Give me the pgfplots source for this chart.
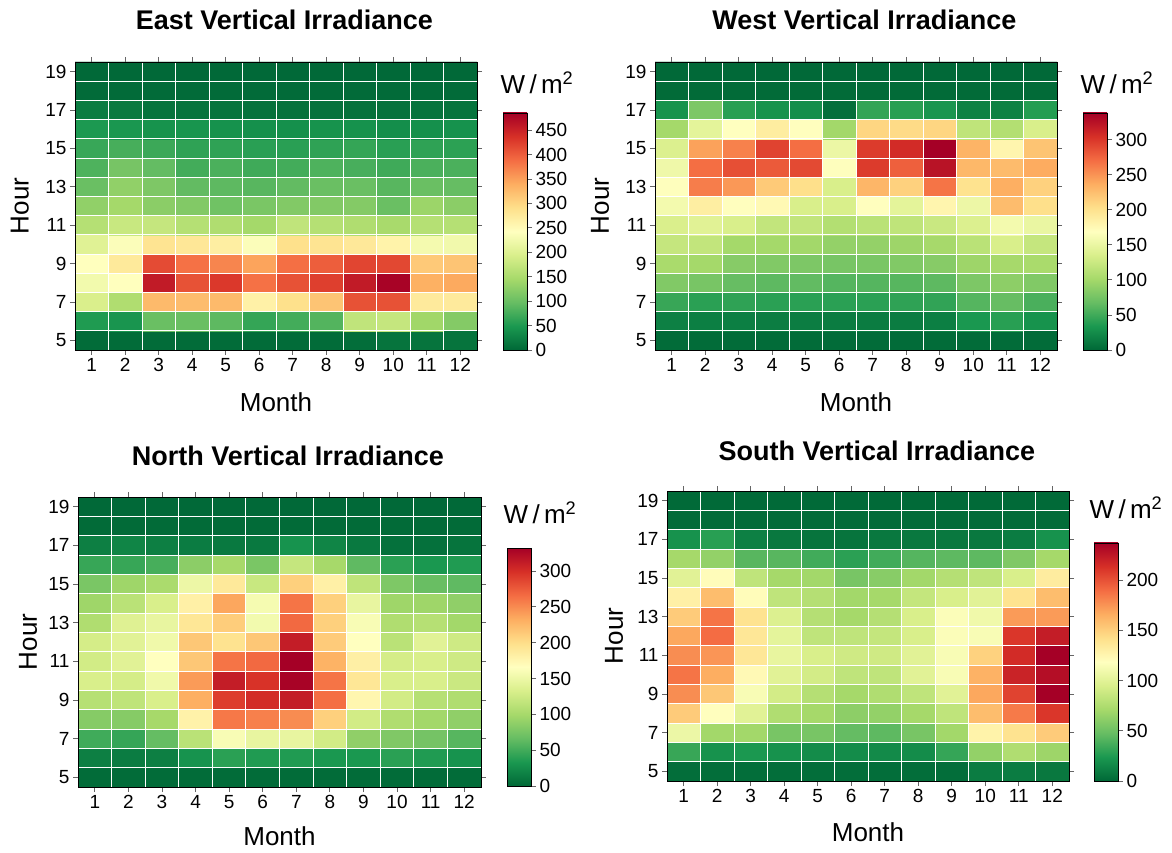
\documentclass[border=0pt]{standalone}
\usepackage{fontspec}
\setmainfont{Liberation Sans}
\usepackage{pgfplots}
\pgfplotsset{compat=1.18}

% Reversed RdYlGn scale, as a colormap for the cells and as a shading for the bars
% (a shaded path is mapped onto the 25bp--75bp band of the shading)
\pgfdeclareverticalshading{rdylgnv}{100bp}{%
  rgb(0bp)=(0,0.408,0.216); rgb(25bp)=(0,0.408,0.216); rgb(30bp)=(0.102,0.596,0.314);
  rgb(35bp)=(0.4,0.741,0.388); rgb(40bp)=(0.651,0.851,0.416); rgb(45bp)=(0.851,0.937,0.545);
  rgb(50bp)=(1,1,0.749); rgb(55bp)=(0.996,0.878,0.545); rgb(60bp)=(0.992,0.682,0.380);
  rgb(65bp)=(0.957,0.427,0.263); rgb(70bp)=(0.843,0.188,0.153); rgb(75bp)=(0.647,0,0.149);
  rgb(100bp)=(0.647,0,0.149)}

\pgfplotsset{
  colormap={rdylgnrev}{rgb255=(0,104,55) rgb255=(26,152,80) rgb255=(102,189,99)
    rgb255=(166,217,106) rgb255=(217,239,139) rgb255=(255,255,191) rgb255=(254,224,139)
    rgb255=(253,174,97) rgb255=(244,109,67) rgb255=(215,48,39) rgb255=(165,0,38)},
  heatpanel/.style={
    scale only axis, anchor=south west,
    xmin=0.5, xmax=12.5, ymin=4.5, ymax=19.5,
    xtick={1,...,12}, ytick={5,7,...,19},
    minor xtick={1.5,2.5,...,11.5}, minor ytick={5.5,6.5,...,18.5},
    minor tick length=0pt,
    grid=minor,
    minor grid style={white, line width=0.9pt},
    axis on top,
    tick align=outside,
    major tick length=5pt,
    major tick style={black!60, line width=0.8pt},
    axis line style={black, line width=0.8pt},
    ticklabel style={font=\fontsize{19}{22}\selectfont},
    /pgf/number format/assume math mode=true,
    xlabel={Month}, ylabel={Hour},
    label style={font=\fontsize{26}{30}\selectfont},
    title style={font=\bfseries\fontsize{27}{30}\selectfont, anchor=center},
    colormap name=rdylgnrev,
    point meta min=0,
  },
  cbar/.style={
    scale only axis, anchor=south west,
    width=24pt,
    xmin=0, xmax=1, ymin=0, xtick=\empty,
    axis on top,
    tick align=outside, ytick pos=right,
    major tick length=5pt,
    major tick style={black!60, line width=0.8pt},
    axis line style={black, line width=0.8pt},
    yticklabel style={font=\fontsize{19}{22}\selectfont},
    /pgf/number format/assume math mode=true,
  },
  cells/.style={matrix plot*, mesh/cols=12, point meta=explicit},
}

\begin{document}
\begin{tikzpicture}
\useasboundingbox (0,0) rectangle (1172pt,852pt);

% East facade
\begin{axis}[heatpanel, at={(75pt,502pt)},
  width=402pt, height=288pt,
  point meta max=485,
  title={East Vertical Irradiance},
  title style={at={(axis description cs:0.521,1.125)}},
  xlabel style={at={(axis description cs:0.5,-0.18)}, anchor=center},
  ylabel style={at={(axis description cs:-0.137,0.5)}, anchor=center}]
\addplot[cells] coordinates {
(1,5)[4] (2,5)[4] (3,5)[4] (4,5)[4] (5,5)[4] (6,5)[4] (7,5)[4] (8,5)[4] (9,5)[6] (10,5)[12] (11,5)[12] (12,5)[12]
(1,6)[52] (2,6)[46] (3,6)[100] (4,6)[100] (5,6)[92] (6,6)[65] (7,6)[75] (8,6)[85] (9,6)[170] (10,6)[175] (11,6)[142] (12,6)[120]
(1,7)[195] (2,7)[155] (3,7)[328] (4,7)[326] (5,7)[328] (6,7)[265] (7,7)[290] (8,7)[318] (9,7)[410] (10,7)[410] (11,7)[275] (12,7)[275]
(1,8)[226] (2,8)[242] (3,8)[458] (4,8)[410] (5,8)[430] (6,8)[385] (7,8)[410] (8,8)[425] (9,8)[458] (10,8)[482] (11,8)[337] (12,8)[343]
(1,9)[242] (2,9)[276] (3,9)[415] (4,9)[385] (5,9)[370] (6,9)[347] (7,9)[387] (8,9)[400] (9,9)[420] (10,9)[418] (11,9)[313] (12,9)[318]
(1,10)[203] (2,10)[238] (3,10)[285] (4,10)[280] (5,10)[270] (6,10)[238] (7,10)[290] (8,10)[285] (9,10)[278] (10,10)[262] (11,10)[228] (12,10)[225]
(1,11)[160] (2,11)[178] (3,11)[175] (4,11)[160] (5,11)[155] (6,11)[145] (7,11)[170] (8,11)[160] (9,11)[155] (10,11)[148] (11,11)[160] (12,11)[160]
(1,12)[130] (2,12)[145] (3,12)[125] (4,12)[118] (5,12)[105] (6,12)[112] (7,12)[118] (8,12)[118] (9,12)[120] (10,12)[100] (11,12)[138] (12,12)[125]
(1,13)[100] (2,13)[130] (3,13)[115] (4,13)[95] (5,13)[92] (6,13)[88] (7,13)[95] (8,13)[100] (9,13)[100] (10,13)[88] (11,13)[100] (12,13)[97]
(1,14)[82] (2,14)[110] (3,14)[96] (4,14)[75] (5,14)[80] (6,14)[72] (7,14)[75] (8,14)[82] (9,14)[78] (10,14)[72] (11,14)[80] (12,14)[80]
(1,15)[68] (2,15)[77] (3,15)[70] (4,15)[62] (5,15)[62] (6,15)[58] (7,15)[58] (8,15)[62] (9,15)[65] (10,15)[58] (11,15)[62] (12,15)[60]
(1,16)[50] (2,16)[48] (3,16)[43] (4,16)[45] (5,16)[42] (6,16)[40] (7,16)[40] (8,16)[43] (9,16)[42] (10,16)[38] (11,16)[40] (12,16)[42]
(1,17)[20] (2,17)[18] (3,17)[12] (4,17)[12] (5,17)[12] (6,17)[10] (7,17)[10] (8,17)[10] (9,17)[10] (10,17)[10] (11,17)[12] (12,17)[12]
(1,18)[3] (2,18)[3] (3,18)[3] (4,18)[3] (5,18)[3] (6,18)[3] (7,18)[3] (8,18)[3] (9,18)[3] (10,18)[3] (11,18)[3] (12,18)[3]
(1,19)[1] (2,19)[1] (3,19)[1] (4,19)[1] (5,19)[1] (6,19)[1] (7,19)[1] (8,19)[1] (9,19)[1] (10,19)[1] (11,19)[1] (12,19)[1]
};
\end{axis}
\begin{axis}[cbar, at={(503pt,502pt)}, height=237pt, ymax=485, ytick={0,50,...,450}]
\shade[shading=rdylgnv] (rel axis cs:0,0) rectangle (rel axis cs:1,1);
\end{axis}

% West facade
\begin{axis}[heatpanel, at={(655pt,502pt)},
  width=402pt, height=288pt,
  point meta max=338,
  title={West Vertical Irradiance},
  title style={at={(axis description cs:0.521,1.125)}},
  xlabel style={at={(axis description cs:0.5,-0.18)}, anchor=center},
  ylabel style={at={(axis description cs:-0.137,0.5)}, anchor=center}]
\addplot[cells] coordinates {
(1,5)[3] (2,5)[3] (3,5)[3] (4,5)[3] (5,5)[3] (6,5)[3] (7,5)[3] (8,5)[3] (9,5)[3] (10,5)[3] (11,5)[3] (12,5)[3]
(1,6)[17] (2,6)[16] (3,6)[16] (4,6)[15] (5,6)[15] (6,6)[14] (7,6)[14] (8,6)[14] (9,6)[16] (10,6)[34] (11,6)[40] (12,6)[30]
(1,7)[47] (2,7)[41] (3,7)[43] (4,7)[41] (5,7)[41] (6,7)[41] (7,7)[41] (8,7)[43] (9,7)[44] (10,7)[60] (11,7)[68] (12,7)[55]
(1,8)[82] (2,8)[77] (3,8)[68] (4,8)[64] (5,8)[66] (6,8)[60] (7,8)[60] (8,8)[61] (9,8)[64] (10,8)[80] (11,8)[88] (12,8)[82]
(1,9)[104] (2,9)[101] (3,9)[85] (4,9)[82] (5,9)[80] (6,9)[77] (7,9)[78] (8,9)[82] (9,9)[85] (10,9)[97] (11,9)[102] (12,9)[104]
(1,10)[122] (2,10)[120] (3,10)[101] (4,10)[101] (5,10)[100] (6,10)[92] (7,10)[92] (8,10)[97] (9,10)[102] (10,10)[115] (11,10)[135] (12,10)[122]
(1,11)[136] (2,11)[142] (3,11)[135] (4,11)[120] (5,11)[120] (6,11)[110] (7,11)[115] (8,11)[118] (9,11)[125] (10,11)[138] (11,11)[158] (12,11)[150]
(1,12)[158] (2,12)[188] (3,12)[170] (4,12)[176] (5,12)[135] (6,12)[135] (7,12)[170] (8,12)[145] (9,12)[180] (10,12)[153] (11,12)[227] (12,12)[203]
(1,13)[168] (2,13)[262] (3,13)[248] (4,13)[218] (5,13)[203] (6,13)[135] (7,13)[231] (8,13)[213] (9,13)[267] (10,13)[200] (11,13)[236] (12,13)[213]
(1,14)[155] (2,14)[270] (3,14)[287] (4,14)[281] (5,14)[290] (6,14)[168] (7,14)[298] (8,14)[278] (9,14)[325] (10,14)[230] (11,14)[228] (12,14)[238]
(1,15)[138] (2,15)[243] (3,15)[260] (4,15)[294] (5,15)[270] (6,15)[152] (7,15)[298] (8,15)[308] (9,15)[338] (10,15)[233] (11,15)[180] (12,15)[222]
(1,16)[101] (2,16)[145] (3,16)[169] (4,16)[189] (5,16)[170] (6,16)[100] (7,16)[210] (8,16)[206] (9,16)[210] (10,16)[118] (11,16)[110] (12,16)[135]
(1,17)[30] (2,17)[80] (3,17)[40] (4,17)[30] (5,17)[27] (6,17)[5] (7,17)[45] (8,17)[40] (9,17)[32] (10,17)[18] (11,17)[18] (12,17)[38]
(1,18)[2] (2,18)[2] (3,18)[2] (4,18)[2] (5,18)[2] (6,18)[2] (7,18)[2] (8,18)[2] (9,18)[2] (10,18)[2] (11,18)[2] (12,18)[2]
(1,19)[1] (2,19)[1] (3,19)[1] (4,19)[1] (5,19)[1] (6,19)[1] (7,19)[1] (8,19)[1] (9,19)[1] (10,19)[1] (11,19)[1] (12,19)[1]
};
\end{axis}
\begin{axis}[cbar, at={(1083pt,502pt)}, height=237pt, ymax=338, ytick={0,50,...,300}]
\shade[shading=rdylgnv] (rel axis cs:0,0) rectangle (rel axis cs:1,1);
\end{axis}

% North facade
\begin{axis}[heatpanel, at={(78pt,65pt)},
  width=403pt, height=290pt,
  point meta max=332,
  title={North Vertical Irradiance},
  title style={at={(axis description cs:0.521,1.120)}},
  xlabel style={at={(axis description cs:0.5,-0.169)}, anchor=center},
  ylabel style={at={(axis description cs:-0.124,0.5)}, anchor=center}]
\addplot[cells] coordinates {
(1,5)[3] (2,5)[3] (3,5)[3] (4,5)[3] (5,5)[3] (6,5)[3] (7,5)[3] (8,5)[3] (9,5)[3] (10,5)[3] (11,5)[3] (12,5)[3]
(1,6)[16] (2,6)[14] (3,6)[16] (4,6)[30] (5,6)[40] (6,6)[36] (7,6)[36] (8,6)[33] (9,6)[33] (10,6)[40] (11,6)[36] (12,6)[30]
(1,7)[50] (2,7)[45] (3,7)[66] (4,7)[113] (5,7)[160] (6,7)[146] (7,7)[146] (8,7)[128] (9,7)[88] (10,7)[80] (11,7)[74] (12,7)[60]
(1,8)[83] (2,8)[83] (3,8)[100] (4,8)[180] (5,8)[260] (6,8)[256] (7,8)[250] (8,8)[210] (9,8)[128] (10,8)[106] (11,8)[98] (12,8)[88]
(1,9)[110] (2,9)[116] (3,9)[133] (4,9)[232] (5,9)[292] (6,9)[302] (7,9)[312] (8,9)[265] (9,9)[176] (10,9)[128] (11,9)[110] (12,9)[106]
(1,10)[133] (2,10)[130] (3,10)[153] (4,10)[242] (5,10)[312] (6,10)[298] (7,10)[330] (8,10)[262] (9,10)[192] (10,10)[133] (11,10)[133] (12,10)[123]
(1,11)[128] (2,11)[140] (3,11)[166] (4,11)[216] (5,11)[262] (6,11)[268] (7,11)[332] (8,11)[229] (9,11)[183] (10,11)[130] (11,11)[133] (12,11)[126]
(1,12)[130] (2,12)[140] (3,12)[153] (4,12)[216] (5,12)[196] (6,12)[216] (7,12)[312] (8,12)[213] (9,12)[166] (10,12)[113] (11,12)[140] (12,12)[126]
(1,13)[106] (2,13)[138] (3,13)[146] (4,13)[192] (5,13)[212] (6,13)[155] (7,13)[268] (8,13)[210] (9,13)[160] (10,13)[106] (11,13)[110] (12,13)[98]
(1,14)[96] (2,14)[113] (3,14)[133] (4,14)[182] (5,14)[236] (6,14)[157] (7,14)[262] (8,14)[210] (9,14)[146] (10,14)[96] (11,14)[96] (12,14)[88]
(1,15)[77] (2,15)[96] (3,15)[103] (4,15)[150] (5,15)[190] (6,15)[122] (7,15)[210] (8,15)[182] (9,15)[116] (10,15)[79] (11,15)[68] (12,15)[64]
(1,16)[46] (2,16)[46] (3,16)[53] (4,16)[86] (5,16)[100] (6,16)[77] (7,16)[120] (8,16)[100] (9,16)[64] (10,16)[40] (11,16)[33] (12,16)[36]
(1,17)[16] (2,17)[20] (3,17)[16] (4,17)[14] (5,17)[12] (6,17)[12] (7,17)[30] (8,17)[20] (9,17)[12] (10,17)[6] (11,17)[6] (12,17)[8]
(1,18)[2] (2,18)[2] (3,18)[2] (4,18)[2] (5,18)[2] (6,18)[2] (7,18)[2] (8,18)[2] (9,18)[2] (10,18)[2] (11,18)[2] (12,18)[2]
(1,19)[1] (2,19)[1] (3,19)[1] (4,19)[1] (5,19)[1] (6,19)[1] (7,19)[1] (8,19)[1] (9,19)[1] (10,19)[1] (11,19)[1] (12,19)[1]
};
\end{axis}
\begin{axis}[cbar, at={(507pt,66pt)}, height=238pt, ymax=332, ytick={0,50,...,300}]
\shade[shading=rdylgnv] (rel axis cs:0,0) rectangle (rel axis cs:1,1);
\end{axis}

% South facade
\begin{axis}[heatpanel, at={(667pt,71pt)},
  width=402pt, height=290pt,
  point meta max=237,
  title={South Vertical Irradiance},
  title style={at={(axis description cs:0.522,1.117)}},
  xlabel style={at={(axis description cs:0.5,-0.176)}, anchor=center},
  ylabel style={at={(axis description cs:-0.132,0.5)}, anchor=center}]
\addplot[cells] coordinates {
(1,5)[3] (2,5)[3] (3,5)[3] (4,5)[3] (5,5)[3] (6,5)[3] (7,5)[3] (8,5)[3] (9,5)[3] (10,5)[10] (11,5)[10] (12,5)[8]
(1,6)[33] (2,6)[21] (3,6)[24] (4,6)[21] (5,6)[18] (6,6)[18] (7,6)[17] (8,6)[18] (9,6)[32] (10,6)[64] (11,6)[76] (12,6)[68]
(1,7)[107] (2,7)[70] (3,7)[70] (4,7)[54] (5,7)[54] (6,7)[47] (7,7)[45] (8,7)[54] (9,7)[70] (10,7)[128] (11,7)[140] (12,7)[152]
(1,8)[152] (2,8)[119] (3,8)[100] (4,8)[76] (5,8)[71] (6,8)[62] (7,8)[64] (8,8)[71] (9,8)[83] (10,8)[159] (11,8)[185] (12,8)[211]
(1,9)[178] (2,9)[154] (3,9)[114] (4,9)[92] (5,9)[78] (6,9)[71] (7,9)[76] (8,9)[83] (9,9)[100] (10,9)[168] (11,9)[206] (12,9)[237]
(1,10)[187] (2,10)[166] (3,10)[123] (4,10)[100] (5,10)[92] (6,10)[83] (7,10)[83] (8,10)[100] (9,10)[114] (10,10)[164] (11,10)[220] (12,10)[230]
(1,11)[178] (2,11)[175] (3,11)[137] (4,11)[104] (5,11)[95] (6,11)[90] (7,11)[90] (8,11)[100] (9,11)[114] (10,11)[149] (11,11)[216] (12,11)[237]
(1,12)[168] (2,12)[190] (3,12)[137] (4,12)[102] (5,12)[83] (6,12)[83] (7,12)[85] (8,12)[95] (9,12)[116] (10,12)[114] (11,12)[211] (12,12)[223]
(1,13)[152] (2,13)[187] (3,13)[140] (4,13)[97] (5,13)[78] (6,13)[71] (7,13)[78] (8,13)[95] (9,13)[116] (10,13)[109] (11,13)[173] (12,13)[173]
(1,14)[130] (2,14)[159] (3,14)[121] (4,14)[83] (5,14)[78] (6,14)[70] (7,14)[71] (8,14)[85] (9,14)[95] (10,14)[100] (11,14)[140] (12,14)[159]
(1,15)[100] (2,15)[121] (3,15)[83] (4,15)[71] (5,15)[70] (6,15)[54] (7,15)[60] (8,15)[70] (9,15)[78] (10,15)[83] (11,15)[95] (12,15)[133]
(1,16)[71] (2,16)[64] (3,16)[43] (4,16)[43] (5,16)[36] (6,16)[29] (7,16)[36] (8,16)[42] (9,16)[45] (10,16)[45] (11,16)[57] (12,16)[71]
(1,17)[21] (2,17)[28] (3,17)[12] (4,17)[8] (5,17)[6] (6,17)[6] (7,17)[8] (8,17)[8] (9,17)[8] (10,17)[8] (11,17)[10] (12,17)[21]
(1,18)[2] (2,18)[2] (3,18)[2] (4,18)[2] (5,18)[2] (6,18)[2] (7,18)[2] (8,18)[2] (9,18)[2] (10,18)[2] (11,18)[2] (12,18)[2]
(1,19)[1] (2,19)[1] (3,19)[1] (4,19)[1] (5,19)[1] (6,19)[1] (7,19)[1] (8,19)[1] (9,19)[1] (10,19)[1] (11,19)[1] (12,19)[1]
};
\end{axis}
\begin{axis}[cbar, at={(1094pt,71pt)}, height=238pt, ymax=237, ytick={0,50,...,200}]
\shade[shading=rdylgnv] (rel axis cs:0,0) rectangle (rel axis cs:1,1);
\end{axis}

% Colour-bar unit labels
\node[font=\fontsize{26}{30}\selectfont] at (537pt,769pt) {W\,/\,m\textsuperscript{2}};
\node[font=\fontsize{26}{30}\selectfont] at (1117pt,769pt) {W\,/\,m\textsuperscript{2}};
\node[font=\fontsize{26}{30}\selectfont] at (540pt,339pt) {W\,/\,m\textsuperscript{2}};
\node[font=\fontsize{26}{30}\selectfont] at (1126pt,344pt) {W\,/\,m\textsuperscript{2}};
\end{tikzpicture}
\end{document}
